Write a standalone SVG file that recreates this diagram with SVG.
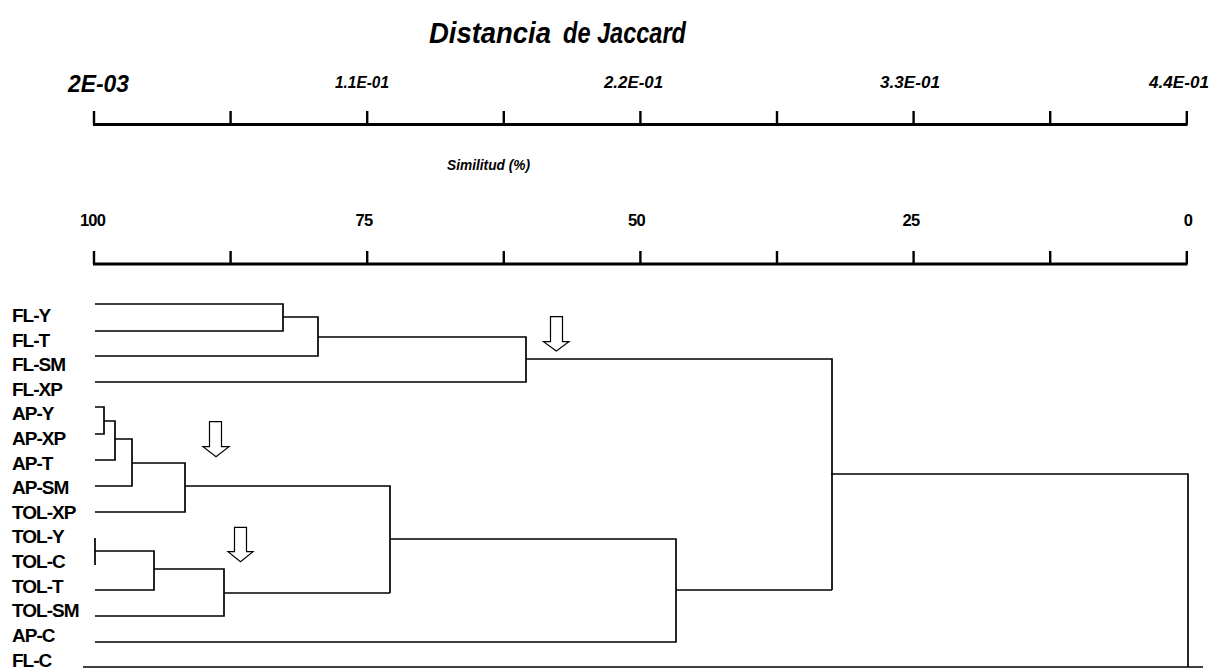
<svg xmlns="http://www.w3.org/2000/svg" width="1217" height="670" viewBox="0 0 1217 670">
  <style>
    .bg { fill: #ffffff; }
    .ln { fill: none; stroke: #000; stroke-width: 1.7; }
    .axis { fill: none; stroke: #000; stroke-width: 3; }
    .tick { fill: none; stroke: #000; stroke-width: 2.4; }
    .arrow { fill: #ffffff; stroke: #000; stroke-width: 1.2; stroke-linejoin: miter; }
    .title { font-family: "Liberation Sans", Arial, sans-serif; font-weight: bold; font-style: italic; font-size: 29px; fill: #000; }
    .sci { font-family: "Liberation Sans", Arial, sans-serif; font-weight: bold; font-style: italic; font-size: 16.5px; fill: #000; }
    .sci-big { font-family: "Liberation Sans", Arial, sans-serif; font-weight: bold; font-style: italic; font-size: 24px; fill: #000; }
    .sub { font-family: "Liberation Sans", Arial, sans-serif; font-weight: bold; font-style: italic; font-size: 15px; fill: #000; }
    .pct { font-family: "Liberation Sans", Arial, sans-serif; font-weight: bold; font-size: 16.5px; letter-spacing: -0.8px; fill: #000; text-anchor: middle; }
    .leaf { font-family: "Liberation Sans", Arial, sans-serif; font-weight: bold; font-size: 19px; letter-spacing: -1px; fill: #000; }
  </style>

  <rect class="bg" x="0" y="0" width="1217" height="670"/>

  <!-- heading -->
  <g id="title">
    <text class="title" x="429" y="43" textLength="122" lengthAdjust="spacingAndGlyphs">Distancia</text>
    <text class="title" x="563" y="43" textLength="123" lengthAdjust="spacingAndGlyphs">de Jaccard</text>
  </g>

  <!-- distance scale -->
  <g id="axis-distance">
    <text class="sci-big" x="68" y="92" textLength="61" lengthAdjust="spacingAndGlyphs">2E-03</text>
    <text class="sci" x="335" y="87.5" textLength="54" lengthAdjust="spacingAndGlyphs">1.1E-01</text>
    <text class="sci" x="604" y="87.5" textLength="59" lengthAdjust="spacingAndGlyphs">2.2E-01</text>
    <text class="sci" x="880" y="87.5" textLength="60" lengthAdjust="spacingAndGlyphs">3.3E-01</text>
    <text class="sci" x="1149" y="87.5" textLength="60" lengthAdjust="spacingAndGlyphs">4.4E-01</text>
    <path class="axis" d="M93,124.5 H1187.5"/>
    <path class="tick" d="M94,111 V124.5 M230.6,111 V124.5 M367.2,111 V124.5 M503.8,111 V124.5 M640.4,111 V124.5 M777,111 V124.5 M913.6,111 V124.5 M1050.2,111 V124.5 M1186.8,111 V124.5"/>
  </g>

  <!-- similarity scale -->
  <g id="axis-similarity">
    <text class="sub" x="447" y="170" textLength="83" lengthAdjust="spacingAndGlyphs">Similitud (%)</text>
    <text class="pct" x="92.5" y="225.5">100</text>
    <text class="pct" x="364" y="225.5">75</text>
    <text class="pct" x="636.5" y="225.5">50</text>
    <text class="pct" x="911" y="225.5">25</text>
    <text class="pct" x="1188" y="225.5">0</text>
    <path class="axis" d="M93,264 H1187.5"/>
    <path class="tick" d="M94,251 V264 M230.6,251 V264 M367.2,251 V264 M503.8,251 V264 M640.4,251 V264 M777,251 V264 M913.6,251 V264 M1050.2,251 V264 M1186.8,251 V264"/>
  </g>

  <!-- leaves -->
  <g id="leaf-FL-Y"><text class="leaf" x="12" y="322">FL-Y</text></g>
  <g id="leaf-FL-T"><text class="leaf" x="12" y="346.6">FL-T</text></g>
  <g id="leaf-FL-SM"><text class="leaf" x="12" y="371.2">FL-SM</text></g>
  <g id="leaf-FL-XP"><text class="leaf" x="12" y="395.8">FL-XP</text></g>
  <g id="leaf-AP-Y"><text class="leaf" x="12" y="420.4">AP-Y</text></g>
  <g id="leaf-AP-XP"><text class="leaf" x="12" y="445">AP-XP</text></g>
  <g id="leaf-AP-T"><text class="leaf" x="12" y="469.6">AP-T</text></g>
  <g id="leaf-AP-SM"><text class="leaf" x="12" y="494.2">AP-SM</text></g>
  <g id="leaf-TOL-XP"><text class="leaf" x="12" y="518.8">TOL-XP</text></g>
  <g id="leaf-TOL-Y"><text class="leaf" x="12" y="543.4">TOL-Y</text></g>
  <g id="leaf-TOL-C"><text class="leaf" x="12" y="568">TOL-C</text></g>
  <g id="leaf-TOL-T"><text class="leaf" x="12" y="592.6">TOL-T</text></g>
  <g id="leaf-TOL-SM"><text class="leaf" x="12" y="617.2">TOL-SM</text></g>
  <g id="leaf-AP-C"><text class="leaf" x="12" y="641.8">AP-C</text></g>
  <g id="leaf-FL-C"><text class="leaf" x="12" y="667.4">FL-C</text></g>

  <!-- tree branches -->
  <g id="connectors">
    <path class="ln" d="M95,304 H283 V331 H95"/>
    <path class="ln" d="M283,317 H318 V356 H95"/>
    <path class="ln" d="M318,337 H526 V382 H95"/>
    <path class="ln" d="M526,359 H832 V590"/>
    <path class="ln" d="M95,407 H104 V434 H95"/>
    <path class="ln" d="M104,421 H115 V460 H95"/>
    <path class="ln" d="M115,439 H132 V486 H95"/>
    <path class="ln" d="M132,463 H185 V512 H95"/>
    <path class="ln" d="M185,486 H390 V593"/>
    <path class="ln" d="M95,538 V565 M95,551 H154 V590 H95"/>
    <path class="ln" d="M154,569 H224 V616 H95"/>
    <path class="ln" d="M224,593 H390"/>
    <path class="ln" d="M390,539 H676 V642 H95"/>
    <path class="ln" d="M676,590 H832"/>
    <path class="ln" d="M831,474 H1188 V667"/>
    <path class="ln" d="M1203,667 H83"/>
  </g>

  <!-- cut markers -->
  <g id="cut-arrows">
    <polygon class="arrow" points="550.5,316.7 562.5,316.7 562.5,341.7 569,341.7 556.3,351 543.5,341.7 550.5,341.7"/>
    <polygon class="arrow" points="209.5,421.7 221.5,421.7 221.5,446.7 229,446.7 216,456.7 203,446.7 209.5,446.7"/>
    <polygon class="arrow" points="234.5,527.3 246.5,527.3 246.5,551.7 253,551.7 240.5,561.7 228,551.7 234.5,551.7"/>
  </g>
</svg>
